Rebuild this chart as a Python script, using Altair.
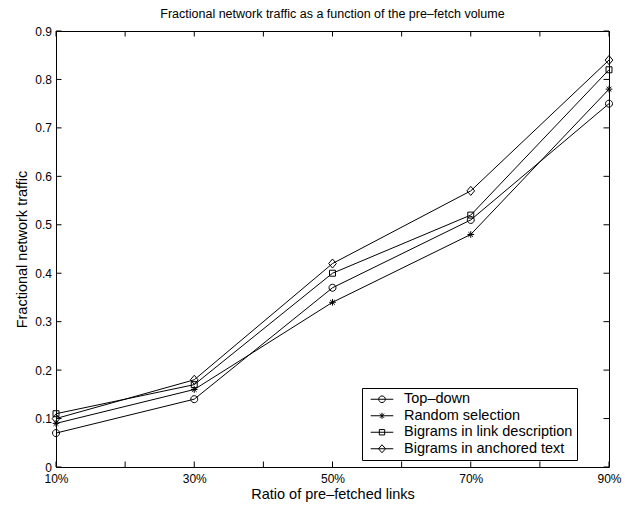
import altair as alt
import pandas as pd

# ---- data ----
ratios = [10, 30, 50, 70, 90]
series_names = ["Top–down", "Random selection",
                "Bigrams in link description", "Bigrams in anchored text"]
top_down = [0.07, 0.14, 0.37, 0.51, 0.75]
random_sel = [0.09, 0.16, 0.34, 0.48, 0.78]
bigram_link = [0.11, 0.17, 0.40, 0.52, 0.82]
bigram_anchor = [0.10, 0.18, 0.42, 0.57, 0.84]

x_ticks = [10, 20, 30, 40, 50, 60, 70, 80, 90]
x_labels = [10, 30, 50, 70, 90]
y_ticks = [0, 0.1, 0.2, 0.3, 0.4, 0.5, 0.6, 0.7, 0.8, 0.9]

rows = []
for name, vals in zip(series_names, [top_down, random_sel, bigram_link, bigram_anchor]):
    for r, v in zip(ratios, vals):
        rows.append({"ratio": r, "traffic": v, "series": name})
df = pd.DataFrame(rows)
xt = pd.DataFrame({"ratio": x_ticks})
yt = pd.DataFrame({"traffic": y_ticks})

W, H = 553, 436
FONT = "Liberation Sans"
TICK = 5.5

# marker shapes on the plot (unit box, size 49 -> 3.5 px per unit)
plot_shapes = [
    "M-1,0A1,1,0,1,0,1,0A1,1,0,1,0,-1,0",
    "M-0.95,0L0.95,0M0,-0.95L0,0.95M-0.67,-0.67L0.67,0.67M-0.67,0.67L0.67,-0.67",
    "M-0.85,-0.85L0.85,-0.85L0.85,0.85L-0.85,0.85Z",
    "M-1.1,0L0,-1.3L1.1,0L0,1.3Z",
]
# legend symbols: line with marker (size 100 -> 5 px per unit)
legend_shapes = [
    "M-0.51,0L4.01,0M1.09,0A0.66,0.66,0,1,0,2.41,0A0.66,0.66,0,1,0,1.09,0",
    "M-0.51,0L4.01,0M1.75,-0.6L1.75,0.6M1.33,-0.42L2.17,0.42M1.33,0.42L2.17,-0.42",
    "M-0.51,0L4.01,0M1.21,-0.54L2.29,-0.54L2.29,0.54L1.21,0.54Z",
    "M-0.51,0L4.01,0M1.05,0L1.75,-0.8L2.45,0L1.75,0.8Z",
]

x_scale = alt.Scale(domain=[10, 90], nice=False, zero=False)
y_scale = alt.Scale(domain=[0, 0.9], nice=False, zero=True)

x_axis = alt.Axis(
    values=x_labels, labelExpr="datum.value + '%'", ticks=False, tickSize=0,
    domain=False, grid=False, labelPadding=6, labelFlush=False,
    labelFont=FONT, labelFontSize=12, labelColor="black",
    title="Ratio of pre–fetched links", titleFont=FONT, titleFontSize=14.5,
    titleFontWeight="normal", titleColor="black",
    titleBaseline="alphabetic", titleY=31.5,
)
y_axis = alt.Axis(
    values=y_ticks,
    labelExpr="datum.value == 0 ? '0' : format(datum.value, '.1f')",
    ticks=False, tickSize=0, domain=False, grid=False, labelPadding=4.5,
    labelFlush=False, labelFont=FONT, labelFontSize=12, labelColor="black",
    title="Fractional network traffic", titleFont=FONT, titleFontSize=14.5,
    titleFontWeight="normal", titleColor="black",
    titleBaseline="alphabetic", titleX=-29.5, titleY=H / 2, titleAngle=-90,
    titleAlign="center",
)

X = alt.X("ratio:Q", scale=x_scale, axis=x_axis)
Y = alt.Y("traffic:Q", scale=y_scale, axis=y_axis)

base = alt.Chart(df)

lines = base.mark_line(color="black", strokeWidth=1).encode(
    x=X, y=Y, detail="series:N",
)

points = base.mark_point(filled=False, color="black", size=49, strokeWidth=1,
                         opacity=1).encode(
    x=X, y=Y,
    shape=alt.Shape("series:N", scale=alt.Scale(domain=series_names, range=plot_shapes),
                    legend=None),
)

legend_layer = base.transform_filter("false").mark_point(
    filled=False, color="black", size=100, strokeWidth=1, opacity=1
).encode(
    x=X, y=Y,
    shape=alt.Shape(
        "series:N",
        scale=alt.Scale(domain=series_names, range=legend_shapes),
        legend=alt.Legend(
            title=None, orient="none", legendX=306, legendY=357,
            labelFont=FONT, labelFontSize=14.5, labelColor="black",
            labelOffset=23.5, labelLimit=400, padding=4, rowPadding=1.5,
            strokeColor="black", fillColor="white",
            symbolSize=100, symbolStrokeColor="black", symbolStrokeWidth=1,
            symbolFillColor="transparent", symbolOpacity=1,
        ),
    ),
)

bottom_ticks = alt.Chart(xt).mark_rule(color="black", strokeWidth=1).encode(
    x=X, y=alt.value(H), y2=alt.value(H - TICK),
)
top_ticks = alt.Chart(xt).mark_rule(color="black", strokeWidth=1).encode(
    x=X, y=alt.value(0), y2=alt.value(TICK),
)
left_ticks = alt.Chart(yt).mark_rule(color="black", strokeWidth=1).encode(
    y=Y, x=alt.value(0), x2=alt.value(TICK),
)
right_ticks = alt.Chart(yt).mark_rule(color="black", strokeWidth=1).encode(
    y=Y, x=alt.value(W - TICK), x2=alt.value(W),
)

chart = alt.layer(
    lines, points, legend_layer, bottom_ticks, top_ticks, left_ticks, right_ticks
).resolve_scale(shape="independent").properties(
    width=W, height=H,
    title=alt.TitleParams(
        "Fractional network traffic as a function of the pre–fetch volume",
        font=FONT, fontSize=12.5, fontWeight="normal", color="black",
        anchor="middle", baseline="alphabetic", offset=8, frame="group", dy=13,
    ),
    padding={"left": 56, "top": 31, "right": 20, "bottom": 44},
    autosize=alt.AutoSizeParams(type="none"),
    background="white",
).configure_view(stroke="black", strokeWidth=1)

chart.save("out.html", embed_options={"renderer": "svg", "actions": False})
